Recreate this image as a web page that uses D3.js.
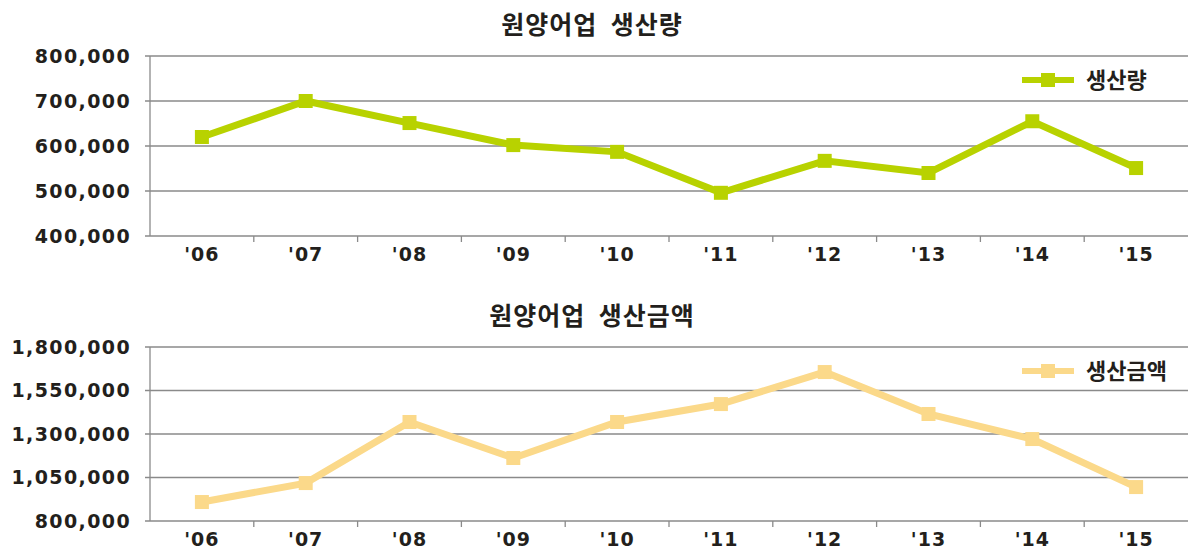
<!DOCTYPE html>
<html>
<head>
<meta charset="utf-8">
<script src="https://cdn.jsdelivr.net/npm/d3@7"></script>
<style>
  body { margin: 0; background: #fff; }
  svg text { fill: #231f1c; }
</style>
</head>
<body>
<svg id="chart" width="1188" height="549"></svg>
<script>
const years = ["'06", "'07", "'08", "'09", "'10", "'11", "'12", "'13", "'14", "'15"];
const volume = [620000, 700000, 651000, 602000, 587000, 496000, 567000, 540000, 655000, 551000];
const amount = [909000, 1018000, 1369000, 1162000, 1369000, 1472000, 1656000, 1415000, 1271000, 995000];
const volumeTicks = [400000, 500000, 600000, 700000, 800000];
const amountTicks = [800000, 1050000, 1300000, 1550000, 1800000];

const svg = d3.select('#chart');
const fmt = d3.format(',');

function drawPanel(opts) {
  const g = svg.append('g');
  const x = d3.scaleBand().domain(years).range([150, 1188]);
  const y = d3.scaleLinear().domain(opts.domain).range([opts.bottom, opts.top]);

  // title (double space kept)
  g.append('text')
    .attr('x', 592)
    .attr('y', opts.titleY)
    .attr('text-anchor', 'middle')
    .style('white-space', 'pre')
    .style('font-family', '"Noto Sans CJK KR", sans-serif')
    .style('font-size', '25px')
    .style('font-weight', 'bold')
    .style('letter-spacing', '1px')
    .text(opts.title);

  // gridlines + y labels
  opts.ticks.forEach(t => {
    g.append('line')
      .attr('x1', 145).attr('x2', 1188)
      .attr('y1', y(t)).attr('y2', y(t))
      .attr('stroke', '#8a8a8a')
      .attr('stroke-width', 1.3);
    g.append('text')
      .attr('x', 131)
      .attr('y', y(t))
      .attr('dy', '0.36em')
      .attr('text-anchor', 'end')
      .style('font-family', '"DejaVu Sans", sans-serif')
      .style('font-weight', 'bold')
      .style('font-size', '19px')
      .style('letter-spacing', '1.4px')
      .text(fmt(t));
  });

  // left axis line
  g.append('line')
    .attr('x1', 150).attr('x2', 150)
    .attr('y1', opts.top).attr('y2', opts.bottom)
    .attr('stroke', '#8a8a8a').attr('stroke-width', 1.3);

  // x tick marks at band edges
  years.forEach((d, i) => {
    if (i === 0) return;
    g.append('line')
      .attr('x1', x(d)).attr('x2', x(d))
      .attr('y1', opts.bottom).attr('y2', opts.bottom + 6)
      .attr('stroke', '#8a8a8a').attr('stroke-width', 1.3);
  });

  // x labels
  g.selectAll('.xl').data(years).enter().append('text')
    .attr('x', d => x(d) + x.bandwidth() / 2)
    .attr('y', opts.bottom + 25)
    .attr('text-anchor', 'middle')
    .style('font-family', '"DejaVu Sans", sans-serif')
    .style('font-weight', 'bold')
    .style('font-size', '19px')
    .style('letter-spacing', '1px')
    .text(d => d);

  // line
  const line = d3.line()
    .x((d, i) => x(years[i]) + x.bandwidth() / 2)
    .y(d => y(d));
  g.append('path')
    .datum(opts.values)
    .attr('fill', 'none')
    .attr('stroke', opts.color)
    .attr('stroke-width', 7)
    .attr('stroke-linejoin', 'miter')
    .attr('d', line);
  g.selectAll('.pt').data(opts.values).enter().append('rect')
    .attr('x', (d, i) => x(years[i]) + x.bandwidth() / 2 - 7)
    .attr('y', d => y(d) - 7)
    .attr('width', 14).attr('height', 14)
    .attr('fill', opts.color);

  // legend
  g.append('line')
    .attr('x1', 1022).attr('x2', 1074)
    .attr('y1', opts.legendY).attr('y2', opts.legendY)
    .attr('stroke', opts.color).attr('stroke-width', 6);
  g.append('rect')
    .attr('x', 1041).attr('y', opts.legendY - 7)
    .attr('width', 14).attr('height', 14)
    .attr('fill', opts.color);
  g.append('text')
    .attr('x', 1086)
    .attr('y', opts.legendY)
    .attr('dy', '0.36em')
    .style('font-family', '"Noto Sans CJK KR", sans-serif')
    .style('font-weight', 'bold')
    .style('font-size', '22px')
    .text(opts.legend);
}

drawPanel({
  title: '원양어업  생산량',
  titleY: 34,
  legend: '생산량',
  legendY: 80,
  values: volume,
  ticks: volumeTicks,
  domain: [400000, 800000],
  top: 56,
  bottom: 236,
  color: '#b8d200'
});

drawPanel({
  title: '원양어업  생산금액',
  titleY: 325,
  legend: '생산금액',
  legendY: 371,
  values: amount,
  ticks: amountTicks,
  domain: [800000, 1800000],
  top: 347,
  bottom: 521,
  color: '#fbd98a'
});
</script>
</body>
</html>
